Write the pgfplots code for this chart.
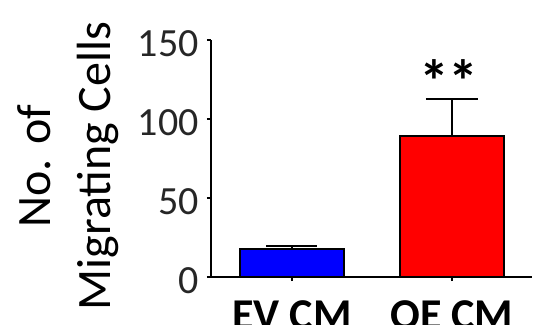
\documentclass[border=0pt]{standalone}
\usepackage{fontspec}
\setmainfont{Carlito}
\usepackage{pgfplots}
\pgfplotsset{compat=1.18}
\begin{document}
\begin{tikzpicture}
\begin{axis}[
  scale only axis,
  width=321pt, height=237pt,
  xmin=-0.506, xmax=1.5,
  ymin=0, ymax=150,
  axis x line*=bottom, axis y line*=left,
  axis line style={-, line width=1.4pt, black},
  xtick={0,1}, xticklabels={EV CM, OE CM},
  ytick={0,50,100,150},
  tick align=outside,
  major tick length=4pt,
  tick style={line width=1.2pt, black},
  /pgf/number format/assume math mode=true,
  yticklabel style={font=\fontsize{40}{48}\selectfont, color=black!85, inner sep=0pt, anchor=east, xshift=-8pt, yshift=-4pt},
  xticklabel style={font=\fontsize{44}{52}\selectfont\bfseries, inner sep=0pt, anchor=north, yshift=-19pt},
  ylabel={No. of\\Migrating Cells},
  ylabel style={at={(axis description cs:-0.445,0.468)}, anchor=center, rotate=0, align=center, font=\fontsize{48}{60}\selectfont},
  ybar, bar width=104pt,
  clip=false,
]
\addplot[bar shift=0pt, fill={rgb,255:red,0;green,0;blue,255}, draw=black, line width=1.5pt,
  error bars/.cd, y dir=plus, y explicit,
  error bar style={line width=1.5pt, black},
  error mark options={rotate=90, mark size=25.5pt, line width=1.5pt, black}]
  coordinates {(0,17.7) +- (0,1.9)};
\addplot[bar shift=0pt, fill={rgb,255:red,255;green,0;blue,0}, draw=black, line width=1.5pt,
  error bars/.cd, y dir=plus, y explicit,
  error bar style={line width=1.5pt, black},
  error mark options={rotate=90, mark size=26pt, line width=1.5pt, black}]
  coordinates {(1,89.2) +- (0,23.5)};
\node[font=\fontsize{60}{70}\selectfont\bfseries, xshift=-3pt] at (axis cs:1,124) {**};
\end{axis}
\pgfresetboundingbox
\path[use as bounding box] (-211pt,-47pt) rectangle (327pt,277pt);
\end{tikzpicture}
\end{document}
